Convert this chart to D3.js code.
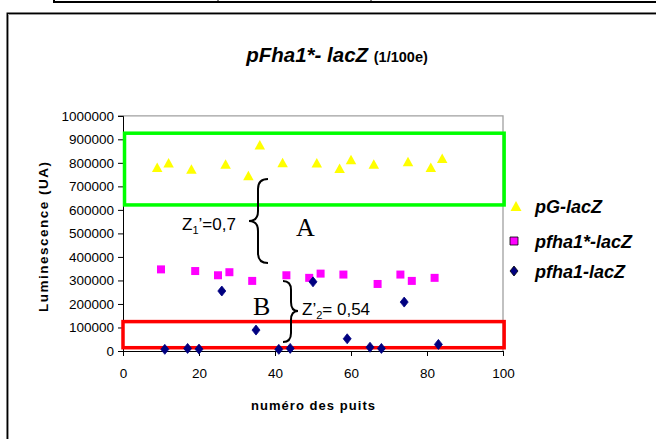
<!DOCTYPE html>
<html><head><meta charset="utf-8">
<script src="https://cdn.jsdelivr.net/npm/d3@7"></script>
<style>body{margin:0;background:#fff}svg{display:block}</style>
</head><body>
<script>
// ---- data ----
const xTicks = [0, 20, 40, 60, 80, 100];
const yTicks = [0,100000,200000,300000,400000,500000,600000,700000,800000,900000,1000000];
const seriesNames = ["pG-lacZ", "pfha1*-lacZ", "pfha1-lacZ"];
const pgX = [9,12,18,27,33,36,42,51,57,60,66,75,81,84];
const pgY = [781000,800000,774000,795000,746000,877000,801000,800000,777000,814000,795000,806000,781000,819000];
const fStarX = [10,19,25,28,34,43,49,52,58,67,73,76,82];
const fStarY = [347000,340000,322000,335000,298000,322000,311000,329000,325000,285000,325000,298000,311000];
const fX = [11,17,20,26,35,41,44,50,59,65,68,74,83];
const fY = [7000,11000,8000,255000,89000,7000,11000,294000,52000,16000,11000,208000,28000];

const W = 656, H = 439;
const svg = d3.select("body").append("svg").attr("width", W).attr("height", H);

// top table remnant
svg.append("line").attr("x1",53).attr("x2",W+2).attr("y1",2).attr("y2",2).attr("stroke","#000").attr("stroke-width",2);
[[54,2],[218,1],[371,1]].forEach(([x,w]) => svg.append("line").attr("x1",x).attr("x2",x).attr("y1",0).attr("y2",3).attr("stroke","#000").attr("stroke-width",w));

// chart frame
svg.append("rect").attr("x",7.25).attr("y",13.25).attr("width",700).attr("height",500).attr("fill","none").attr("stroke","#000").attr("stroke-width",1.5);
svg.append("path").attr("d",`M8.5,${H+10}V14.5H${W+10}`).attr("fill","none").attr("stroke","#999").attr("stroke-width",1);

const x = d3.scaleLinear().domain([0,100]).range([123,503]);
const y = d3.scaleLinear().domain([0,1000000]).range([351,115.8]);

// plot area border (gray top/right)
svg.append("path").attr("d",`M${x(0)},${y(1000000)}H${x(100)}V${y(0)}`).attr("fill","none").attr("stroke","#a0a0a0").attr("stroke-width",1.3);

// axes
const yAxis = svg.append("g").attr("transform",`translate(${x(0)},0)`)
  .call(d3.axisLeft(y).tickValues(yTicks).tickSize(5).tickPadding(4).tickFormat(d3.format("d")));
const xAxis = svg.append("g").attr("transform",`translate(0,${y(0)})`)
  .call(d3.axisBottom(x).tickValues(xTicks).tickSize(5).tickPadding(12).tickFormat(d3.format("d")));
[yAxis, xAxis].forEach(g => {
  g.selectAll("text").attr("font-family","Arial, 'Liberation Sans', sans-serif").attr("font-size",13.5).attr("fill","#000");
  g.selectAll("line,path").attr("stroke","#000").attr("stroke-width",1);
});

// title
const title = svg.append("text").attr("x",337).attr("y",62).attr("text-anchor","middle")
  .attr("font-family","Arial, 'Liberation Sans', sans-serif").attr("font-weight","bold");
title.append("tspan").attr("font-size",20.5).attr("font-style","italic").text("pFha1*- lacZ ");
title.append("tspan").attr("font-size",14.5).text("(1/100e)");

// axis titles
svg.append("text").attr("transform","translate(48,237) rotate(-90)").attr("text-anchor","middle")
  .attr("font-family","Arial, 'Liberation Sans', sans-serif").attr("font-weight","bold").attr("font-size",13.5)
  .attr("textLength",150).attr("lengthAdjust","spacing").text("Luminescence (UA)");
svg.append("text").attr("x",313).attr("y",410).attr("text-anchor","middle")
  .attr("font-family","Arial, 'Liberation Sans', sans-serif").attr("font-weight","bold").attr("font-size",13)
  .attr("textLength",124).attr("lengthAdjust","spacing").text("numéro des puits");

// annotation boxes
svg.append("rect").attr("x",x(0.4)).attr("y",y(926000)).attr("width",x(100.3)-x(0.4)).attr("height",y(621000)-y(926000))
  .attr("fill","none").attr("stroke","#00ff00").attr("stroke-width",3.5);
svg.append("rect").attr("x",x(0)).attr("y",y(125000)).attr("width",x(100.3)-x(0)).attr("height",y(14000)-y(125000))
  .attr("fill","none").attr("stroke","#ff0000").attr("stroke-width",3.5);

// markers
const tri = (s) => `M0,${-s/2}L${s/2+0.5},${s/2}L${-s/2-0.5},${s/2}Z`;
const sq = (s) => `M${-s/2},${-s/2}h${s}v${s}h${-s}Z`;
const dia = (s) => `M0,${-s/2-1}L${s/2},0L0,${s/2+1}L${-s/2},0Z`;

function plot(xs, ys, shape, fill, stroke) {
  svg.append("g").selectAll("path").data(xs.map((v,i)=>[v, ys[i]])).join("path")
    .attr("transform", d => `translate(${x(d[0])},${y(d[1])})`)
    .attr("d", shape).attr("fill", fill).attr("stroke", stroke).attr("stroke-width", stroke==="none"?0:0.8);
}
plot(pgX, pgY, tri(9.5), "#ffff00", "none");
plot(fStarX, fStarY, sq(8), "#ff00ff", "none");
plot(fX, fY, dia(8), "#000080", "#000080");

// braces
const brace1 = `M268,179 Q258,179 258,189 L258,211 Q258,221 249,221 Q258,221 258,231 L258,253 Q258,263 268,263`;
const brace2 = `M283,281 Q291,281 291,290 L291,302 Q291,311 298,311 Q291,311 291,320 L291,333 Q291,342 283,342`;
[brace1, brace2].forEach(d => svg.append("path").attr("d", d).attr("fill","none").attr("stroke","#000").attr("stroke-width",2));

const ann = (xx, yy) => svg.append("text").attr("x",xx).attr("y",yy).attr("font-family","Arial, 'Liberation Sans', sans-serif").attr("font-size",17).attr("fill","#000");
const z1 = ann(182, 230);
z1.append("tspan").text("Z");
z1.append("tspan").attr("font-size",11).attr("dy",4).text("1");
z1.append("tspan").attr("dy",-4).text("’=0,7");
const z2 = ann(302, 315);
z2.append("tspan").text("Z’");
z2.append("tspan").attr("font-size",11).attr("dy",4).text("2");
z2.append("tspan").attr("dy",-4).text("= 0,54");

svg.append("text").attr("x",296).attr("y",236).attr("font-family","'Liberation Serif', 'Times New Roman', serif").attr("font-size",26).text("A");
svg.append("text").attr("x",253).attr("y",315).attr("font-family","'Liberation Serif', 'Times New Roman', serif").attr("font-size",26).text("B");

// legend
const legY = [206, 241, 271];
const legShapes = [tri(10), sq(8), dia(8)];
const legFill = ["#ffff00", "#ff00ff", "#000080"];
seriesNames.forEach((n, i) => {
  svg.append("path").attr("transform",`translate(${i===0?516:514},${legY[i]})`).attr("d",legShapes[i])
    .attr("fill",legFill[i]).attr("stroke", i===0 ? "none" : "#000").attr("stroke-width", i===0?0:0.8);
  svg.append("text").attr("x",535).attr("y",legY[i]+7).attr("font-family","Arial, 'Liberation Sans', sans-serif")
    .attr("font-weight","bold").attr("font-style","italic").attr("font-size",18).text(n);
});
</script>
</body></html>
